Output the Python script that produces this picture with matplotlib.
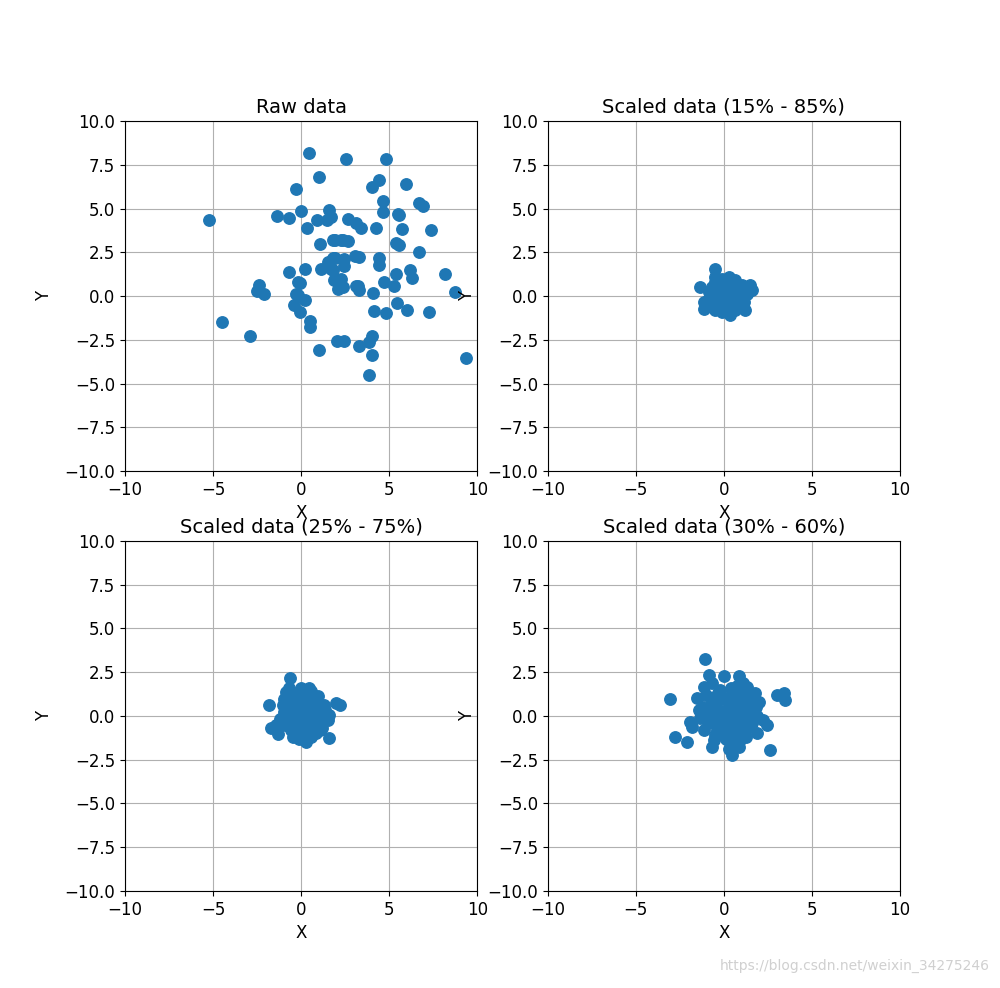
import numpy as np
import matplotlib
matplotlib.use("Agg")
import matplotlib.pyplot as plt

# ---- data ----
raw_x = [0.44, 1.01, -0.31, -5.22, -1.37, -0.71, 0.01, 0.35, 0.9, 1.6, 1.7, 1.46, 1.05, 1.8,
         2.56, 4.83, 4.41, 4.03, 5.96, 4.67, 6.71, 6.9, 4.64, 5.48, 5.58, 2.65, 3.13, 3.41,
         4.26, 5.73, 7.37, 2.27, 2.65, 5.39, 5.58, 6.71, 3.03, 3.31, 4.41, 2.46, 1.8, -4.52,
         -2.92, -2.41, -2.48, -2.12, -0.71, 0.2, -0.08, -0.31, 0.2, -0.42, -0.08, 0.48, 0.52,
         1.01, 2.03, 1.14, 1.61, 1.8, 1.84, 2.08, 9.36, 8.75, 8.19, 7.28, 5.99, 5.45, 4.83,
         4.16, 4.07, 4.73, 5.26, 5.39, 6.2, 6.3, 4.41, 2.46, 1.71, 1.99, 2.27, 2.37, 3.22,
         3.27, 2.46, 3.27, 3.84, 4.03, 4.03, 3.84, 1.9, 2.37, -0.18, 1.52, 1.9, -0.18, 3.13]
raw_y = [8.15, 6.81, 6.14, 4.33, 4.6, 4.48, 4.83, 3.91, 4.37, 4.94, 4.52, 4.33, 2.95, 3.22,
         7.82, 7.82, 6.62, 6.24, 6.39, 5.43, 5.34, 5.13, 4.8, 4.71, 4.61, 4.42, 4.17, 3.91,
         3.91, 3.85, 3.79, 3.18, 3.14, 3.03, 2.9, 2.51, 2.26, 2.22, 2.19, 2.13, 2.2, -1.5,
         -2.26, 0.64, 0.28, 0.09, 1.36, 1.52, 0.75, 0.09, -0.22, -0.54, -0.93, -1.4, -1.75,
         -3.07, -2.55, 1.52, 1.85, 1.46, 0.89, 0.41, -3.56, 0.24, 1.23, -0.93, -0.79, -0.41,
         -0.99, -0.83, 0.16, 0.79, 0.6, 1.27, 1.46, 1.04, 1.8, 1.74, 1.56, 0.99, 0.99, 0.51,
         0.6, 0.32, -2.59, -2.84, -2.65, -2.26, -3.37, -4.52, 3.18, 3.18, 0.79, 1.94, 2.17,
         0.03, 0.6]

s1585_x = [-0.48, -0.48, 0.27, 0.65, 1.03, 1.5, 1.6, 1.31, -1.33, -0.86, -1.14, -0.86, -1.14,
           -0.48, -0.1, 0.37, 0.65, 1.22, 1.12,
           0.0, 0.3, -0.3, 0.5, -0.2, 0.8, 0.2, -0.6, 0.1, -0.2, 0.5, 0.9, -0.4, 0.3, 0.0,
           0.6, -0.7, -0.9, 0.4, -0.5, 1.0, 0.7, -0.1, 0.2, -0.3, 0.4, 0.8, -0.5, 1.1, 0.0]
s1585_y = [1.54, 1.1, 1.1, 0.9, 0.62, 0.62, 0.33, 0.14, 0.53, 0.24, -0.33, -0.53, -0.72,
           -0.81, -0.91, -1.1, -0.81, -0.81, -0.33,
           0.0, 0.5, 0.3, -0.3, -0.4, 0.2, -0.6, 0.0, 0.8, 0.6, 0.5, -0.1, -0.2, 0.2, -0.3,
           0.1, 0.5, -0.2, -0.8, -0.6, 0.3, -0.5, 1.0, 0.4, -0.7, 0.9, 0.6, 0.8, -0.5, 0.4]

s2575_x = [-0.65, -1.85, 1.99, 2.18, 1.61, -1.69, -1.31, -0.46, 0.29, -0.93, -0.84, 0.42,
           0.98, 1.3, 1.52, 1.61, 0.86, -1.22, -1.03, 1.05, 0.58,
           0.0, 0.3, -0.3, 0.5, -0.2, 0.8, 0.2, -0.6, 0.1, -0.4, 0.6, 1.0, -0.5, 0.3, 0.0,
           0.7, -0.8, -0.9, 0.4, -0.2, 1.1, 0.9, -0.2, 0.2, -0.6, 0.5, -0.5, 1.2, 0.0, -1.0,
           -0.1, 0.6, 1.2, -0.7, 0.0, -1.4,
           -0.5, 0.25, 0.75, -0.15, 0.45, -0.75, 0.15, 0.95, -0.35, 0.65, -0.95, 0.35,
           1.35, -0.05, 0.85, -0.65, 0.55, 0.05]
s2575_y = [2.15, 0.6, 0.73, 0.65, -1.26, -0.7, -1.05, -1.18, -1.5, 0.73, 1.35, 1.58, 1.15,
           0.6, -0.23, 0.06, -0.9, -0.18, 0.63, -0.8, -1.18,
           0.0, 0.4, 0.3, -0.3, -0.5, 0.2, -0.7, 0.0, 0.9, 0.8, 0.7, -0.1, -0.4, 0.1, -0.3,
           -0.6, 0.3, -0.5, -1.0, -1.0, 0.5, -0.5, 1.2, 1.3, -0.8, 1.1, 1.1, 0.0, 0.6, 0.2,
           -1.3, 0.3, -0.7, 1.6, 1.6, -0.5,
           0.45, -0.15, 0.55, 0.65, -0.85, -0.25, 1.05, 0.25, -1.15, -0.15, 0.95, -1.25,
           0.35, -0.75, -0.95, 0.1, 1.45, 1.0]

s3060_x = [-1.05, -3.03, -2.75, -2.09, -1.9, -1.8, 2.63, 3.01, 3.39, 3.48, 0.46, -0.86, 0.0,
           0.84, -1.52, -1.14, -0.67, 1.31, 1.78, 1.97, 2.25, 2.45, 1.88, 0.93, 0.84, -0.67,
           -0.58, -0.39, -1.14, -1.33, 0.55,
           0.0, 0.4, -0.4, 0.8, -0.3, 1.2, 0.3, -0.8, 0.2, -0.5, 0.7, 1.4, -0.9, 0.5, 0.1,
           1.0, -1.2, 0.6, 1.5, 1.3, 0.9, 1.1, 0.4, -0.2, -0.7, 0.1, 0.7, 1.7, -0.2, 0.9,
           1.6, -0.5, -1.0, 0.3, 0.2,
           -0.6, 0.25, 1.05, -1.0, 0.6, 1.35, -0.35, 0.45, 1.8, -0.15, 0.85, 1.25, -0.8,
           0.15, 0.6, 1.55, -0.45, 1.0, -1.4, 0.35, 1.9, -0.1, 0.75, 1.15]
s3060_y = [3.26, 0.95, -1.18, -1.47, -0.32, -0.61, -1.94, 1.2, 1.3, 0.91, -2.23, 2.34, 2.29,
           2.29, 1.01, 1.68, 1.87, 1.68, 1.3, 0.82, -0.23, -0.51, -0.99, -1.37, -1.75, -1.75,
           -1.37, -0.8, -0.8, -0.13, -1.75,
           0.0, 0.5, 0.4, -0.3, -0.4, 0.3, -0.8, 0.1, 1.0, 1.1, 1.0, -0.3, -0.4, 0.1, -0.4,
           -0.8, 0.5, -1.1, 0.8, -0.7, 1.4, 1.9, 1.6, 1.5, 0.8, -1.3, -1.5, 0.2, 0.2, 0.4,
           -0.4, -1.1, 1.2, -1.9, -0.1,
           0.0, 0.75, 0.95, 0.2, -0.5, 1.1, 1.3, 1.25, 0.5, -0.9, -0.2, -1.2, -0.35, 0.3,
           -1.4, -0.1, 0.6, 0.65, 0.35, -0.55, 0.0, 1.05, 1.7, -1.0]

panels = [
    ("Raw data", raw_x, raw_y),
    ("Scaled data (15% - 85%)", s1585_x, s1585_y),
    ("Scaled data (25% - 75%)", s2575_x, s2575_y),
    ("Scaled data (30% - 60%)", s3060_x, s3060_y),
]
ticks = [-10, -5, 0, 5, 10]
yticks = [-10.0, -7.5, -5.0, -2.5, 0.0, 2.5, 5.0, 7.5, 10.0]

fig = plt.figure(figsize=(10, 9.88), dpi=100)
fig.subplots_adjust(left=0.125, right=0.9, top=0.8775, bottom=0.0982, wspace=0.2, hspace=0.2)
for i, (title, xs, ys) in enumerate(panels):
    ax = fig.add_subplot(2, 2, i + 1)
    ax.scatter(xs, ys, s=68, color="#1f77b4", zorder=3)
    ax.set_xlim(-10, 10)
    ax.set_ylim(-10, 10)
    ax.set_xticks(ticks)
    ax.set_yticks(yticks)
    ax.grid(True, color="#b0b0b0", linewidth=0.8)
    ax.set_axisbelow(True)
    ax.set_title(title, fontsize=14)
    ax.set_xlabel("X", fontsize=12)
    ax.set_ylabel("Y", fontsize=12, labelpad=8)
    ax.tick_params(labelsize=12)

fig.text(0.99, 0.015, "https://blog.csdn.net/weixin_34275246", ha="right", va="bottom",
         color="#d0d0d0", fontsize=10)
fig.savefig("out.png", dpi=100)
